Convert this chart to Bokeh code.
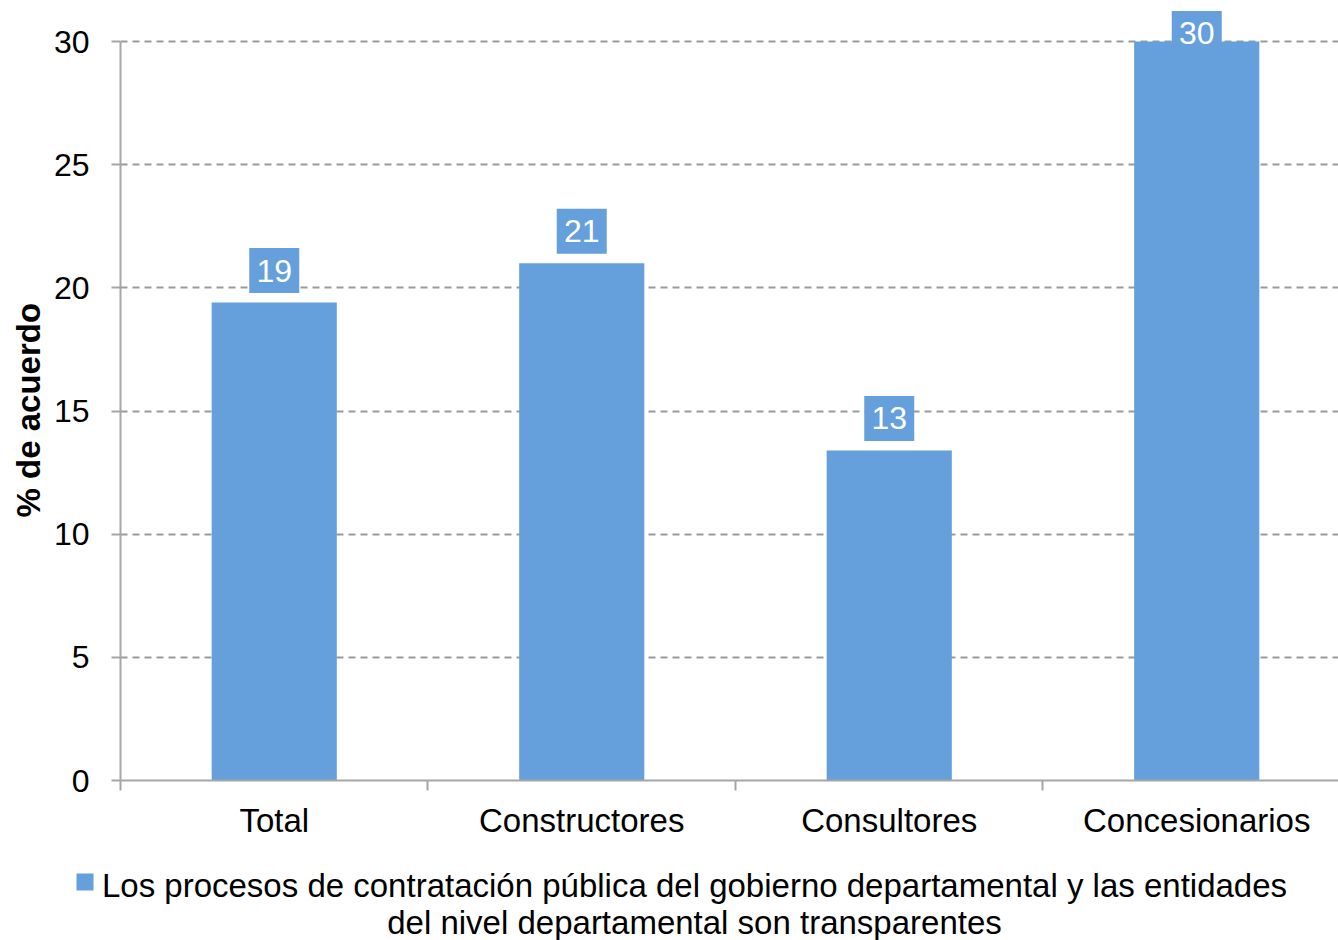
from bokeh.plotting import figure
from bokeh.models import Range1d, FixedTicker, ColumnDataSource, Title
from bokeh.layouts import column
from bokeh.core.properties import value
from bokeh.embed import file_html
from bokeh.resources import INLINE

categories = ["Total", "Constructores", "Consultores", "Concesionarios"]
values = [19.4, 21.0, 13.4, 30.0]
value_labels = ["19", "21", "13", "30"]
y_ticks = [0, 5, 10, 15, 20, 25, 30]
y_title = "% de acuerdo"
legend_lines = ["Los procesos de contratación pública del gobierno departamental y las entidades",
                "del nivel departamental son transparentes"]

BAR = "#65a0dc"
FONT = "Liberation Sans"
GRAY = "#a6a6a6"

n = len(categories)
xs = [i + 0.5 for i in range(n)]

p = figure(width=1338, height=852,
           x_range=Range1d(0, 3.961), y_range=Range1d(0, 31.34),
           output_backend="svg", toolbar_location=None,
           min_border_left=120, min_border_right=0,
           min_border_top=8, min_border_bottom=72)
p.outline_line_color = None
p.frame_align = False

# grid
p.xgrid.grid_line_color = None
p.ygrid.grid_line_color = "#9a9a9a"
p.ygrid.grid_line_width = 2
p.ygrid.grid_line_dash = "7 5"

# y axis
p.yaxis.ticker = FixedTicker(ticks=y_ticks)
p.yaxis.bounds = (0, 30)
p.yaxis.axis_line_color = GRAY
p.yaxis.axis_line_width = 2
p.yaxis.major_tick_line_color = GRAY
p.yaxis.major_tick_line_width = 2
p.yaxis.major_tick_out = 9
p.yaxis.major_tick_in = 0
p.yaxis.minor_tick_line_color = None
p.yaxis.major_label_text_font = FONT
p.yaxis.major_label_text_font_size = "32px"
p.yaxis.major_label_text_color = "black"
p.yaxis.major_label_standoff = 22

# y axis title, centred on the 0-30 span
p.add_layout(Title(text=y_title, align="left", offset=263,
                   text_font=FONT, text_font_size="33px",
                   text_font_style="bold", text_color="black",
                   standoff=8), "left")

# x axis
p.xaxis.ticker = FixedTicker(ticks=xs, minor_ticks=list(range(n)))
p.xaxis.major_label_overrides = {x: c for x, c in zip(xs, categories)}
p.xaxis.axis_line_color = GRAY
p.xaxis.axis_line_width = 2
p.xaxis.major_tick_out = 0
p.xaxis.major_tick_in = 0
p.xaxis.major_tick_line_color = None
p.xaxis.minor_tick_line_color = GRAY
p.xaxis.minor_tick_line_width = 2
p.xaxis.minor_tick_out = 10
p.xaxis.minor_tick_in = 0
p.xaxis.major_label_text_font = FONT
p.xaxis.major_label_text_font_size = "33px"
p.xaxis.major_label_text_color = "black"
p.xaxis.major_label_standoff = 11

# bars
src = ColumnDataSource(dict(x=xs, top=values, lab=value_labels,
                            ly=[min(v + 1.3, 30.33) for v in values]))
p.vbar(x="x", top="top", width=0.407, bottom=0, source=src,
       fill_color=BAR, line_color=None)

# value labels
p.rect(x="x", y="ly", width=50, height=45, width_units="screen",
       height_units="screen", source=src, fill_color=BAR, line_color=None)
p.text(x="x", y="ly", text="lab", source=src, text_color="white",
       text_font=value(FONT), text_font_size="32px",
       text_align="center", text_baseline="middle")

# legend as a separate strip below the chart
lg = figure(width=1338, height=88, x_range=Range1d(0, 1338), y_range=Range1d(0, 88),
            output_backend="svg", toolbar_location=None,
            min_border_left=0, min_border_right=0, min_border_top=0, min_border_bottom=0)
lg.frame_align = False
lg.axis.visible = False
lg.grid.visible = False
lg.outline_line_color = None
lg.scatter(x=[84.5], y=[58.5], marker="square", size=17, fill_color=BAR, line_color=None)
lg.text(x=[694, 694], y=[55, 18], text=legend_lines, text_color="black",
        text_font=value(FONT), text_font_size="33px",
        text_align="center", text_baseline="middle")

layout = column(p, lg, spacing=0)
open("out.html", "w").write(file_html(layout, INLINE))
